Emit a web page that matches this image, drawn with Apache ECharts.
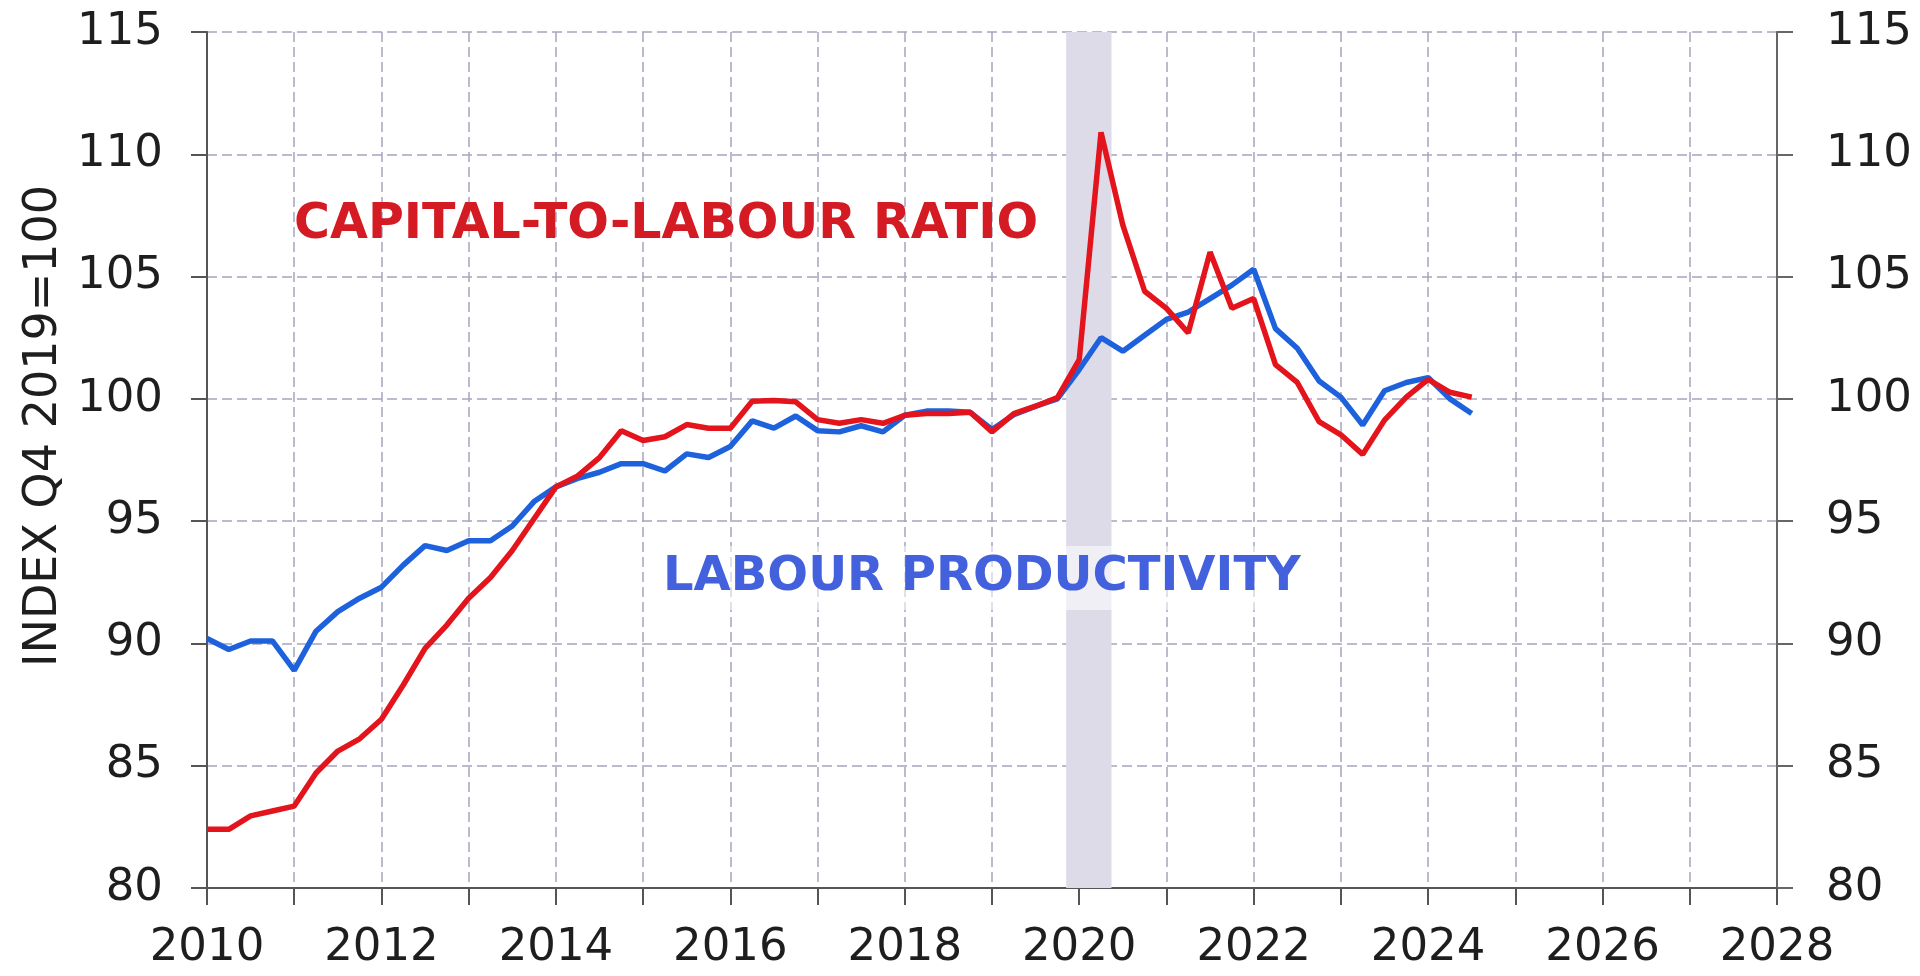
<!DOCTYPE html>
<html>
<head>
<meta charset="utf-8">
<title>Capital-to-labour ratio and labour productivity</title>
<script src="https://cdn.jsdelivr.net/npm/echarts@6/dist/echarts.min.js"></script>
<style>
  html, body { margin: 0; padding: 0; background: #ffffff; }
  #chart { width: 1920px; height: 976px; }
</style>
</head>
<body>
<div id="chart"></div>
<script>
// Quarterly observations, 2010Q1 to 2024Q3
const periods = [
  '2010Q1','2010Q2','2010Q3','2010Q4',
  '2011Q1','2011Q2','2011Q3','2011Q4',
  '2012Q1','2012Q2','2012Q3','2012Q4',
  '2013Q1','2013Q2','2013Q3','2013Q4',
  '2014Q1','2014Q2','2014Q3','2014Q4',
  '2015Q1','2015Q2','2015Q3','2015Q4',
  '2016Q1','2016Q2','2016Q3','2016Q4',
  '2017Q1','2017Q2','2017Q3','2017Q4',
  '2018Q1','2018Q2','2018Q3','2018Q4',
  '2019Q1','2019Q2','2019Q3','2019Q4',
  '2020Q1','2020Q2','2020Q3','2020Q4',
  '2021Q1','2021Q2','2021Q3','2021Q4',
  '2022Q1','2022Q2','2022Q3','2022Q4',
  '2023Q1','2023Q2','2023Q3','2023Q4',
  '2024Q1','2024Q2','2024Q3'
];

// Capital-to-labour ratio, index Q4 2019 = 100
const capitalToLabour = [
  82.4, 82.4, 82.95, 83.15,
  83.35, 84.7, 85.6, 86.1,
  86.9, 88.3, 89.8, 90.75,
  91.85, 92.7, 93.8, 95.1,
  96.4, 96.85, 97.6, 98.7,
  98.3, 98.45, 98.95, 98.8,
  98.8, 99.9, 99.93, 99.88,
  99.15, 99.0, 99.15, 99.0,
  99.33, 99.4, 99.4, 99.45,
  98.65, 99.4, 99.7, 100.05,
  101.6, 110.9, 107.1, 104.4,
  103.7, 102.7, 106.0, 103.7,
  104.1, 101.4, 100.67, 99.07,
  98.53, 97.73, 99.13, 100.07,
  100.8, 100.27, 100.07
];

// Labour productivity, index Q4 2019 = 100
const labourProductivity = [
  90.2, 89.75, 90.1, 90.1,
  88.9, 90.5, 91.3, 91.85,
  92.3, 93.2, 94.0, 93.8,
  94.2, 94.2, 94.8, 95.8,
  96.4, 96.75, 97.0, 97.35,
  97.35, 97.05, 97.75, 97.6,
  98.05, 99.1, 98.8, 99.3,
  98.7, 98.65, 98.9, 98.65,
  99.33, 99.5, 99.5, 99.45,
  98.75, 99.35, 99.7, 100.0,
  101.2, 102.5, 101.95, 102.6,
  103.25, 103.55, 104.1, 104.65,
  105.3, 102.87, 102.07, 100.73,
  100.07, 98.93, 100.33, 100.67,
  100.87, 100.0, 99.4
];

// Shaded pandemic period (decimal years)
const shadedPeriod = [2019.85, 2020.37];

// Axis ranges and text
const xRange = [2010, 2028];
const yRange = [80, 115];
const yAxisTitle = 'INDEX Q4 2019=100';
const capitalLabel = 'CAPITAL-TO-LABOUR RATIO';
const productivityLabel = 'LABOUR PRODUCTIVITY';

function periodToYear(p) {
  const year = parseInt(p.slice(0, 4), 10);
  const q = parseInt(p.slice(5), 10);
  return year + (q - 1) / 4;
}

const capitalPoints = periods.map((p, i) => [periodToYear(p), capitalToLabour[i]]);
const productivityPoints = periods.map((p, i) => [periodToYear(p), labourProductivity[i]]);

const FONT = '"DejaVu Sans", Verdana, sans-serif';
const gridLine = { show: true, lineStyle: { type: [10, 5], color: '#a7a4bc', width: 1.5 } };
const axisLine = { show: true, lineStyle: { color: '#555555', width: 2 } };

const chart = echarts.init(document.getElementById('chart'), null, { renderer: 'canvas' });

const option = {
  backgroundColor: '#ffffff',
  animation: false,
  grid: { left: 207, right: 143, top: 32, bottom: 88, containLabel: false },
  xAxis: {
    type: 'value',
    min: xRange[0],
    max: xRange[1],
    interval: 1,
    axisLine: axisLine,
    axisTick: { show: true, inside: false, length: 17, lineStyle: { color: '#555555', width: 2 } },
    axisLabel: {
      formatter: v => (v % 2 === 0 ? String(v) : ''),
      fontFamily: FONT, fontSize: 45, color: '#1e1e1e', margin: 38,
      showMinLabel: true, showMaxLabel: true, hideOverlap: false
    },
    splitLine: gridLine
  },
  yAxis: [
    {
      type: 'value', position: 'left',
      min: yRange[0], max: yRange[1], interval: 5,
      axisLine: axisLine,
      axisTick: { show: true, inside: false, length: 16, lineStyle: { color: '#555555', width: 2 } },
      axisLabel: { fontFamily: FONT, fontSize: 45, color: '#1e1e1e', margin: 44, showMinLabel: true, showMaxLabel: true },
      splitLine: gridLine
    },
    {
      type: 'value', position: 'right',
      min: yRange[0], max: yRange[1], interval: 5,
      axisLine: { show: true, lineStyle: { color: '#666666', width: 2 } },
      axisTick: { show: true, inside: false, length: 16, lineStyle: { color: '#666666', width: 2 } },
      axisLabel: { fontFamily: FONT, fontSize: 45, color: '#1e1e1e', margin: 49, showMinLabel: true, showMaxLabel: true },
      splitLine: { show: false }
    }
  ],
  series: [
    {
      name: 'shade',
      type: 'line',
      data: [],
      z: 1,
      silent: true,
      markArea: {
        silent: true,
        itemStyle: { color: '#dedbe9' },
        data: [[{ xAxis: shadedPeriod[0] }, { xAxis: shadedPeriod[1] }]]
      }
    },
    {
      name: productivityLabel,
      type: 'line',
      data: productivityPoints,
      showSymbol: false,
      symbol: 'none',
      z: 3,
      lineStyle: { color: '#1d62dc', width: 5.5 },
      itemStyle: { color: '#1d62dc' }
    },
    {
      name: capitalLabel,
      type: 'line',
      data: capitalPoints,
      showSymbol: false,
      symbol: 'none',
      z: 4,
      lineStyle: { color: '#e3141b', width: 5.5 },
      itemStyle: { color: '#e3141b' }
    }
  ],
  graphic: [
    {
      type: 'text',
      x: 44, y: 426,
      rotation: Math.PI / 2,
      style: {
        text: yAxisTitle,
        font: '46px ' + FONT,
        fill: '#1e1e1e',
        align: 'center', verticalAlign: 'middle'
      }
    },
    {
      type: 'text',
      x: 294, y: 225,
      z: 10,
      style: {
        text: capitalLabel,
        font: 'bold 49px ' + FONT,
        fill: '#d41a22',
        align: 'left', verticalAlign: 'middle'
      }
    },
    {
      type: 'text',
      x: 659, y: 578,
      z: 10,
      style: {
        text: productivityLabel,
        font: 'bold 48px ' + FONT,
        fill: '#4361dc',
        align: 'left', verticalAlign: 'middle',
        backgroundColor: 'rgba(255,255,255,0.55)',
        padding: [8, 4, 8, 4]
      }
    }
  ]
};

chart.setOption(option);
</script>
</body>
</html>
